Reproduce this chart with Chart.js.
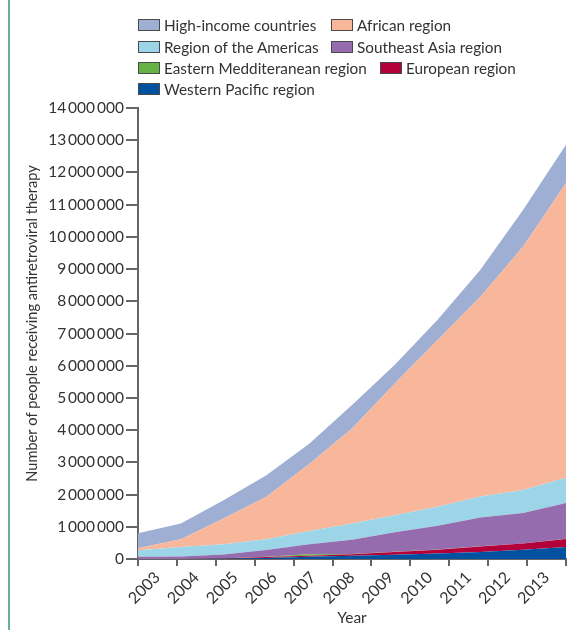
<!DOCTYPE html>
<html>
<head>
<meta charset="utf-8">
<script src="https://cdn.jsdelivr.net/npm/chart.js@4.4.1/dist/chart.umd.min.js"></script>
<style>
    html, body { margin: 0; padding: 0; background: #fff; }
    body { width: 568px; height: 630px; position: relative; overflow: hidden; font-family: Lato, sans-serif; }
    .frame { position: absolute; left: 8px; top: 0; width: 2px; height: 630px; background: #6aae97; }
    #artChart { position: absolute; left: 0; top: 0; }
    .key { position: absolute; display: flex; align-items: center; height: 20px; font-size: 15.3px; color: #333; white-space: nowrap; }
    .key i { display: inline-block; width: 20px; height: 10px; border: 1px solid #4a4a4a; margin-right: 4px; }
</style>
</head>
<body>
<div class="frame"></div>
<canvas id="artChart" width="568" height="630"></canvas>
<div id="legend"></div>
<script>
// Years on the x axis
const years = ['2003', '2004', '2005', '2006', '2007', '2008', '2009', '2010', '2011', '2012', '2013'];

// People receiving ART per region (stacked, bottom to top)
const westernPacific = [0, 0, 10000, 30000, 70000, 100000, 130000, 170000, 220000, 290000, 370000];
const european = [0, 0, 5000, 30000, 30000, 50000, 90000, 120000, 170000, 190000, 250000];
const easternMediterranean = [0, 0, 0, 10000, 50000, 5000, 5000, 5000, 5000, 5000, 5000];
const southeastAsia = [70000, 80000, 125000, 210000, 310000, 445000, 605000, 735000, 895000, 945000, 1115000];
const americas = [200000, 290000, 320000, 330000, 410000, 500000, 530000, 590000, 650000, 710000, 780000];
const african = [60000, 240000, 800000, 1320000, 2080000, 2950000, 4090000, 5180000, 6200000, 7560000, 9150000];
const highIncome = [470000, 490000, 560000, 670000, 630000, 730000, 580000, 630000, 840000, 1140000, 1190000];

// y axis range
const yMax = 14000000;
const yStep = 1000000;
const yTitle = 'Number of people receiving antiretroviral therapy';

const series = [
    { label: 'Western Pacific region', data: westernPacific, color: '#0052a0' },
    { label: 'European region', data: european, color: '#b4003a' },
    { label: 'Eastern Medditeranean region', data: easternMediterranean, color: '#66b245' },
    { label: 'Southeast Asia region', data: southeastAsia, color: '#956cad' },
    { label: 'Region of the Americas', data: americas, color: '#9dd5e8' },
    { label: 'African region', data: african, color: '#f8b79b' },
    { label: 'High-income countries', data: highIncome, color: '#9fafd4' }
];

// Legend slots: [series label, left, top]
const legendSlots = [
    ['High-income countries', 138, 15],
    ['African region', 331, 15],
    ['Region of the Americas', 138, 37],
    ['Southeast Asia region', 331, 37],
    ['Eastern Medditeranean region', 138, 58],
    ['European region', 380, 58],
    ['Western Pacific region', 138, 79]
];

const legend = document.getElementById('legend');
legend.innerHTML = legendSlots.map(([name, left, top]) => {
    const s = series.find(d => d.label === name);
    return `<div class="key" style="left:${left}px;top:${top}px"><i style="background:${s.color}"></i>${name}</div>`;
}).join('');

const fmt = v => Math.round(v).toLocaleString('en-US').replace(/,/g, '\u2009');
const axisColor = '#666';
const textColor = '#333';

// y title sits a little above the middle of the axis, as in the print figure
const yTitlePlugin = {
    id: 'yTitle',
    afterDraw(chart) {
        const { ctx, chartArea } = chart;
        ctx.save();
        ctx.translate(32, (chartArea.top + chartArea.bottom) / 2 - 10);
        ctx.rotate(-Math.PI / 2);
        ctx.font = '14.6px Lato';
        ctx.fillStyle = textColor;
        ctx.textAlign = 'center';
        ctx.textBaseline = 'middle';
        ctx.fillText(yTitle, 0, 0);
        ctx.restore();
    }
};

new Chart(document.getElementById('artChart').getContext('2d'), {
    type: 'line',
    data: {
        labels: years,
        datasets: series.map((s, i) => ({
            label: s.label,
            data: s.data,
            backgroundColor: s.color,
            borderColor: s.color,
            borderWidth: 0,
            pointRadius: 0,
            tension: 0,
            fill: i === 0 ? 'origin' : '-1'
        }))
    },
    options: {
        responsive: false,
        animation: false,
        layout: { padding: { top: 108, right: 2, left: 0, bottom: 0 } },
        plugins: {
            legend: { display: false },
            tooltip: { enabled: false }
        },
        scales: {
            x: { type: 'category', display: false, offset: false },
            yearAxis: {
                type: 'category',
                axis: 'x',
                position: 'bottom',
                labels: years,
                offset: true,
                grid: { offset: true, drawOnChartArea: false, tickLength: 7, color: axisColor, lineWidth: 2 },
                border: { color: axisColor, width: 2 },
                ticks: { minRotation: 45, maxRotation: 45, autoSkip: false, color: textColor, padding: 2, font: { family: 'Lato', size: 16 } },
                title: { display: true, text: 'Year', color: textColor, font: { family: 'Lato', size: 15.5 }, padding: { top: 0, bottom: 3 } },
                afterFit: scale => { scale.height = 71; }
            },
            y: {
                stacked: true,
                min: 0,
                max: yMax,
                grid: { drawOnChartArea: false, tickLength: 12, color: axisColor, lineWidth: 2 },
                border: { color: axisColor, width: 2 },
                ticks: { stepSize: yStep, color: textColor, padding: 2, font: { family: 'Lato', size: 15.5 }, callback: v => fmt(v) },
                afterFit: scale => { scale.width = 138; }
            }
        }
    },
    plugins: [yTitlePlugin]
});
</script>
</body>
</html>
